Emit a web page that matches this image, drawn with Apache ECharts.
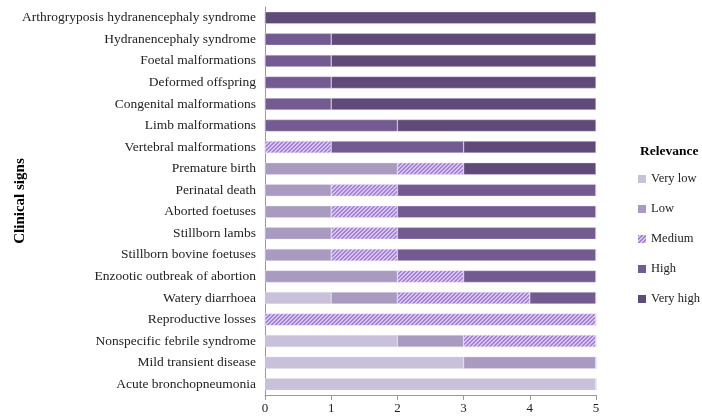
<!DOCTYPE html>
<html>
<head>
<meta charset="utf-8">
<script src="https://cdn.jsdelivr.net/npm/echarts@6/dist/echarts.min.js"></script>
<style>html,body{margin:0;padding:0;background:#fff}#c{width:702px;height:418px}</style>
</head>
<body>
<div id="c"></div>
<script>
const categories = [
  "Arthrogryposis hydranencephaly syndrome",
  "Hydranencephaly syndrome",
  "Foetal malformations",
  "Deformed offspring",
  "Congenital malformations",
  "Limb malformations",
  "Vertebral malformations",
  "Premature birth",
  "Perinatal death",
  "Aborted foetuses",
  "Stillborn lambs",
  "Stillborn bovine foetuses",
  "Enzootic outbreak of abortion",
  "Watery diarrhoea",
  "Reproductive losses",
  "Nonspecific febrile syndrome",
  "Mild transient disease",
  "Acute bronchopneumonia"
];
const seriesNames = ["Very low", "Low", "Medium", "High", "Very high"];
const veryLow  = [0,0,0,0,0,0,0,0,0,0,0,0,0,1,0,2,3,5];
const low      = [0,0,0,0,0,0,0,2,1,1,1,1,2,1,0,1,2,0];
const medium   = [0,0,0,0,0,0,1,1,1,1,1,1,1,2,5,2,0,0];
const high     = [0,1,1,1,1,2,2,0,3,3,3,3,2,1,0,0,0,0];
const veryHigh = [5,4,4,4,4,3,2,2,0,0,0,0,0,0,0,0,0,0];
const xTicks = [0,1,2,3,4,5];

// hatch pattern for "Medium"
const pc = document.createElement('canvas');
pc.width = 4; pc.height = 4;
const g = pc.getContext('2d');
g.fillStyle = '#d6c5ee';
g.fillRect(0,0,4,4);
g.fillStyle = '#a580d3';
for (let i = 0; i < 4; i++) { g.fillRect(i, 3 - i, 1, 1); g.fillRect((i+1)%4, 3 - i, 1, 1); }

const colors = ['#c9c0d9', '#a99abf', {image: pc, repeat: 'repeat'}, '#735b92', '#604a78'];
const values = [veryLow, low, medium, high, veryHigh];

const chart = echarts.init(document.getElementById('c'), null, {renderer: 'canvas'});
const font = 'Liberation Serif';
chart.setOption({
  animation: false,
  textStyle: {fontFamily: font},
  title: {
    text: 'Relevance', left: 635, top: 140,
    textStyle: {fontFamily: font, fontSize: 13.5, fontWeight: 'bold', color: '#000'}
  },
  legend: {
    orient: 'vertical', left: 633, top: 166,
    itemWidth: 8, itemHeight: 8, itemGap: 14,
    icon: 'rect',
    itemStyle: {borderWidth: 0},
    textStyle: {fontFamily: font, fontSize: 12.5, color: '#222', lineHeight: 16},
    data: seriesNames
  },
  grid: {left: 265, right: 106, top: 7, bottom: 23},
  xAxis: {
    type: 'value', min: 0, max: 5, interval: 1,
    axisLine: {show: true, lineStyle: {color: '#999'}},
    axisTick: {show: true, length: 5, lineStyle: {color: '#999'}},
    splitLine: {show: false},
    axisLabel: {fontFamily: font, fontSize: 13, color: '#222', margin: 7,
      formatter: v => xTicks.includes(v) ? String(v) : ''}
  },
  yAxis: {
    type: 'category', inverse: true, data: categories,
    name: 'Clinical signs', nameLocation: 'middle', nameGap: 237, nameRotate: 90,
    nameMoveOverlap: false,
    nameTextStyle: {fontFamily: font, fontSize: 15, fontWeight: 'bold', color: '#000'},
    axisLine: {show: true, lineStyle: {color: '#999'}},
    axisTick: {show: false},
    axisLabel: {fontFamily: font, fontSize: 13.5, color: '#222', margin: 9}
  },
  series: seriesNames.map((n, i) => ({
    name: n, type: 'bar', stack: 'total', barWidth: 12,
    itemStyle: {color: colors[i], borderColor: 'rgba(230,224,240,0.8)', borderWidth: 0.5},
    data: values[i]
  }))
});
</script>
</body>
</html>
